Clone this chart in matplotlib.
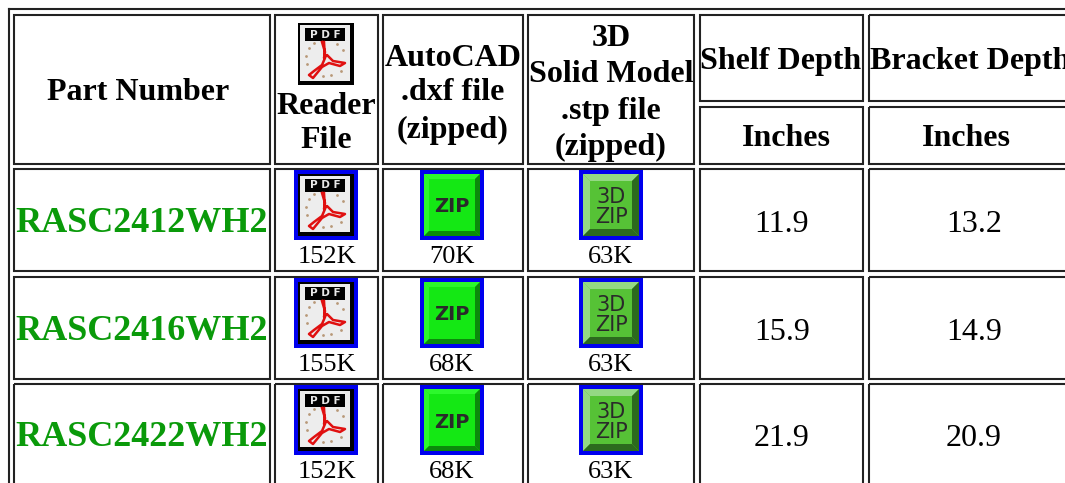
import matplotlib
matplotlib.use("Agg")
import matplotlib.pyplot as plt
from matplotlib.patches import Rectangle, Polygon

# table contents
part_numbers = ["RASC2412WH2", "RASC2416WH2", "RASC2422WH2"]
pdf_sizes = ["152K", "155K", "152K"]
dxf_sizes = ["70K", "68K", "68K"]
stp_sizes = ["63K", "63K", "63K"]
shelf_depth = ["11.9", "15.9", "21.9"]
bracket_depth = ["13.2", "14.9", "20.9"]

# cell edges in pixels
col_edges = [(14, 270), (275, 378), (383, 523), (528, 694), (700, 863), (869, 1075)]
row_edges = [(169, 271), (277, 379), (384, 490)]

plt.rcParams["font.family"] = ["Liberation Serif", "DejaVu Serif"]

fig = plt.figure(figsize=(10.65, 4.83), dpi=100)
ax = fig.add_axes([0, 0, 1, 1])
ax.set_xlim(0, 1065)
ax.set_ylim(483, 0)
ax.axis("off")


def cell(x0, x1, y0, y1):
    ax.add_patch(Rectangle((x0, y0), x1 - x0, y1 - y0, fill=False, ec="#222222", lw=1.5))


def head(x, y, s):
    ax.text(x, y, s, fontsize=23, fontweight="bold", ha="center", va="center", color="black")


def pdf_icon(cx, cy, border=None):
    if border:
        ax.add_patch(Rectangle((cx - 32, cy - 35), 64, 70, fc=border, ec="none"))
    ax.add_patch(Rectangle((cx - 28, cy - 31), 56, 62, fc="black", ec="none"))
    ax.add_patch(Rectangle((cx - 26, cy - 29), 50, 56, fc="#ededed", ec="none"))
    ax.add_patch(Rectangle((cx - 21, cy - 26), 40, 13, fc="black", ec="none"))
    ax.text(cx - 1, cy - 19.5, "P D F", fontsize=7.5, fontweight="bold", color="#e8e8e8", ha="center",
            va="center", family="DejaVu Sans")
    # logo rouge do acrobat
    xs = [cx - 4, cx - 1, cx - 2, cx + 1, cx + 7, cx + 19, cx + 14, cx + 3, cx - 4, cx - 13, cx - 17, cx - 12, cx - 4, cx - 1, cx - 2]
    ys = [cy - 12, cy - 2, cy + 4, cy + 1, cy + 7, cy + 9, cy + 12, cy + 9, cy + 13, cy + 24, cy + 21, cy + 17, cy + 11, cy + 4, cy - 12]
    ax.plot(xs, ys, color="#e01010", lw=1.8, solid_joinstyle="round")
    for dx, dy in [(-17, -6), (-20, 2), (-19, 10), (-12, -11), (11, -10), (17, -4), (15, 17), (5, 21), (-3, 22)]:
        ax.plot(cx + dx, cy + dy, "o", ms=2, color="#b89878", mew=0)


def zip_icon(cx, cy, face, light, dark, label, bevel, size, weight):
    ax.add_patch(Rectangle((cx - 32, cy - 35), 64, 70, fc="#0000ee", ec="none"))
    x0, x1, y0, y1 = cx - 28, cx + 28, cy - 31, cy + 31
    ax.add_patch(Rectangle((x0, y0), 56, 62, fc=face, ec="none"))
    ax.add_patch(Polygon([(x0, y0), (x1, y0), (x1 - bevel, y0 + bevel), (x0 + bevel, y0 + bevel)], fc=light, ec="none"))
    ax.add_patch(Polygon([(x0, y0), (x0 + bevel, y0 + bevel), (x0 + bevel, y1 - bevel), (x0, y1)], fc=light, ec="none"))
    ax.add_patch(Polygon([(x1, y0), (x1, y1), (x1 - bevel, y1 - bevel), (x1 - bevel, y0 + bevel)], fc=dark, ec="none"))
    ax.add_patch(Polygon([(x0, y1), (x1, y1), (x1 - bevel, y1 - bevel), (x0 + bevel, y1 - bevel)], fc=dark, ec="none"))
    ax.text(cx, cy + 2, label, fontsize=size, fontweight=weight, color="#2a2a2a", ha="center", va="center",
            family="DejaVu Sans", linespacing=0.95)


# borda externa da tabela
ax.plot([9, 9], [483, 9], color="#222222", lw=1.5)
ax.plot([9, 1065], [9, 9], color="#222222", lw=1.5)

# cabecalho
for i, (x0, x1) in enumerate(col_edges):
    if i < 4:
        cell(x0, x1, 15, 164)
    else:
        cell(x0, x1, 15, 101)
        cell(x0, x1, 107, 164)

head(138, 93, "Part Number")
pdf_icon(326, 54)
head(326, 107, "Reader")
head(326, 141, "File")
head(453, 59, "AutoCAD")
head(453, 93, ".dxf file")
head(453, 130, "(zipped)")
head(611, 39, "3D")
head(611, 75, "Solid Model")
head(611, 111, ".stp file")
head(611, 147, "(zipped)")
head(781, 61, "Shelf Depth")
head(970, 61, "Bracket Depth")
head(786, 138, "Inches")
head(966, 138, "Inches")

# linhas de dados
for i, (y0, y1) in enumerate(row_edges):
    for x0, x1 in col_edges:
        cell(x0, x1, y0, y1)
    mid = y0 + 55
    ax.text(142, y0 + 54, part_numbers[i], fontsize=26, fontweight="bold", color="#0a9a0a", ha="center", va="center")
    pdf_icon(326, y0 + 36, border="#0000ee")
    zip_icon(452, y0 + 36, "#14e814", "#2cf82c", "#0b8a0b", "ZIP", 5, 14, "bold")
    zip_icon(611, y0 + 36, "#56c236", "#94d884", "#2c6a1e", "3D\nZIP", 7, 15, "normal")
    ax.text(327, y0 + 88, pdf_sizes[i], fontsize=19, ha="center", va="center", color="black")
    ax.text(452, y0 + 88, dxf_sizes[i], fontsize=19, ha="center", va="center", color="black")
    ax.text(611, y0 + 88, stp_sizes[i], fontsize=19, ha="center", va="center", color="black")
    ax.text(782, mid, shelf_depth[i], fontsize=23, ha="center", va="center", color="black")
    ax.text(974, mid, bracket_depth[i], fontsize=23, ha="center", va="center", color="black")

fig.savefig("out.png", dpi=100)
